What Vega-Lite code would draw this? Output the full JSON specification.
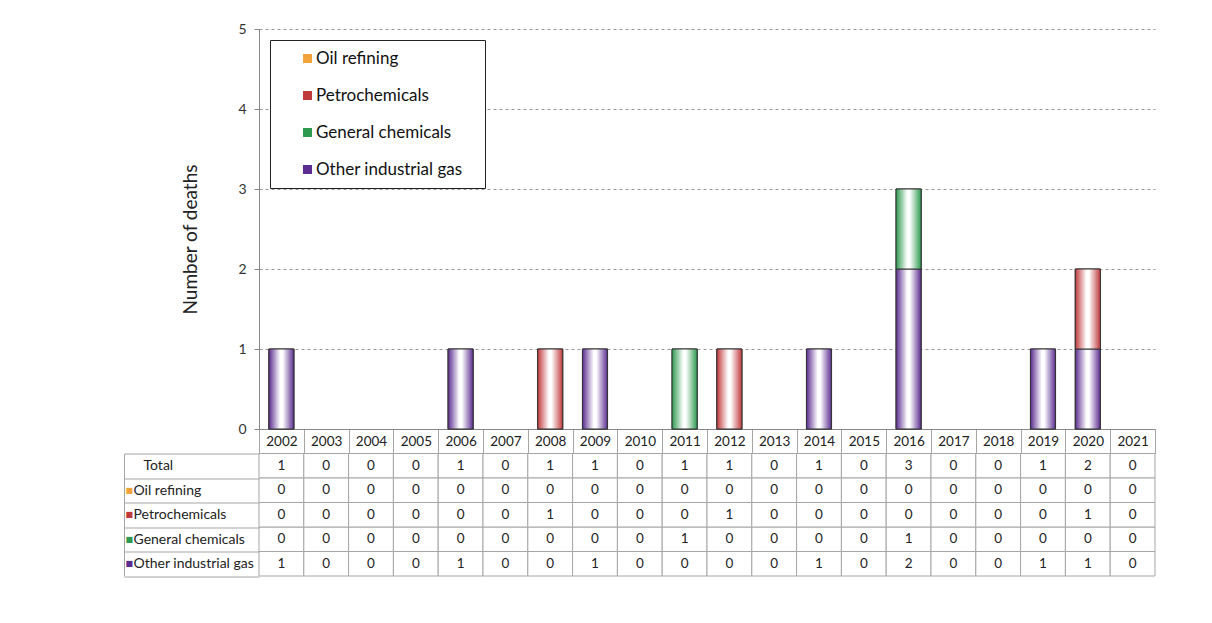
{
  "$schema": "https://vega.github.io/schema/vega-lite/v6.json",
  "padding": {"left": 123, "top": 22, "right": 5, "bottom": 5},
  "background": "white",
  "spacing": 24.5,
  "bounds": "flush",
  "config": {"font": "Lato", "view": {"stroke": null}},
  "data": {"values": [
    {"year": "2002", "Total": 1, "Oil refining": 0, "Petrochemicals": 0, "General chemicals": 0, "Other industrial gas": 1},
    {"year": "2003", "Total": 0, "Oil refining": 0, "Petrochemicals": 0, "General chemicals": 0, "Other industrial gas": 0},
    {"year": "2004", "Total": 0, "Oil refining": 0, "Petrochemicals": 0, "General chemicals": 0, "Other industrial gas": 0},
    {"year": "2005", "Total": 0, "Oil refining": 0, "Petrochemicals": 0, "General chemicals": 0, "Other industrial gas": 0},
    {"year": "2006", "Total": 1, "Oil refining": 0, "Petrochemicals": 0, "General chemicals": 0, "Other industrial gas": 1},
    {"year": "2007", "Total": 0, "Oil refining": 0, "Petrochemicals": 0, "General chemicals": 0, "Other industrial gas": 0},
    {"year": "2008", "Total": 1, "Oil refining": 0, "Petrochemicals": 1, "General chemicals": 0, "Other industrial gas": 0},
    {"year": "2009", "Total": 1, "Oil refining": 0, "Petrochemicals": 0, "General chemicals": 0, "Other industrial gas": 1},
    {"year": "2010", "Total": 0, "Oil refining": 0, "Petrochemicals": 0, "General chemicals": 0, "Other industrial gas": 0},
    {"year": "2011", "Total": 1, "Oil refining": 0, "Petrochemicals": 0, "General chemicals": 1, "Other industrial gas": 0},
    {"year": "2012", "Total": 1, "Oil refining": 0, "Petrochemicals": 1, "General chemicals": 0, "Other industrial gas": 0},
    {"year": "2013", "Total": 0, "Oil refining": 0, "Petrochemicals": 0, "General chemicals": 0, "Other industrial gas": 0},
    {"year": "2014", "Total": 1, "Oil refining": 0, "Petrochemicals": 0, "General chemicals": 0, "Other industrial gas": 1},
    {"year": "2015", "Total": 0, "Oil refining": 0, "Petrochemicals": 0, "General chemicals": 0, "Other industrial gas": 0},
    {"year": "2016", "Total": 3, "Oil refining": 0, "Petrochemicals": 0, "General chemicals": 1, "Other industrial gas": 2},
    {"year": "2017", "Total": 0, "Oil refining": 0, "Petrochemicals": 0, "General chemicals": 0, "Other industrial gas": 0},
    {"year": "2018", "Total": 0, "Oil refining": 0, "Petrochemicals": 0, "General chemicals": 0, "Other industrial gas": 0},
    {"year": "2019", "Total": 1, "Oil refining": 0, "Petrochemicals": 0, "General chemicals": 0, "Other industrial gas": 1},
    {"year": "2020", "Total": 2, "Oil refining": 0, "Petrochemicals": 1, "General chemicals": 0, "Other industrial gas": 1},
    {"year": "2021", "Total": 0, "Oil refining": 0, "Petrochemicals": 0, "General chemicals": 0, "Other industrial gas": 0}
  ]},
  "transform": [
    {"fold": ["Total", "Other industrial gas", "General chemicals", "Petrochemicals", "Oil refining"], "as": ["cat", "n"]}
  ],
  "vconcat": [
    {
      "width": 896,
      "height": 400,
      "transform": [
        {"filter": "datum.cat !== 'Total' && datum.n > 0"},
        {"stack": "n", "groupby": ["year"], "as": ["y0", "y1"]}
      ],
      "encoding": {
        "x": {
          "field": "year", "type": "ordinal",
          "scale": {"domain": ["2002","2003","2004","2005","2006","2007","2008","2009","2010","2011","2012","2013","2014","2015","2016","2017","2018","2019","2020","2021"], "paddingInner": 0, "paddingOuter": 0},
          "axis": {"title": null, "orient": "bottom", "labelAngle": 0, "tickBand": "extent", "tickSize": 24.5, "tickColor": "#a6a6a6", "domainColor": "#888888", "labelPadding": -12, "labelBaseline": "middle", "labelFontSize": 13.5, "labelColor": "#222222", "grid": false}
        },
        "y": {
          "field": "y1", "type": "quantitative",
          "scale": {"domain": [0, 5]},
          "axis": {"title": "Number of deaths", "titleFontSize": 19, "titleFontWeight": "normal", "titleColor": "#222222", "titlePadding": 37, "titleY": 210, "values": [0,1,2,3,4,5], "grid": true, "gridDash": [3,3], "gridColor": "#999999", "domainColor": "#888888", "tickColor": "#888888", "tickSize": 5, "labelFontSize": 14, "labelColor": "#333333", "labelPadding": 8}
        },
        "y2": {"field": "y0"}
      },
      "layer": [
        {
          "mark": {"type": "bar", "stroke": "#333333", "strokeWidth": 1, "width": {"band": 0.56}},
          "encoding": {
            "fill": {
              "field": "cat", "type": "nominal",
              "scale": {
                "domain": ["Oil refining", "Petrochemicals", "General chemicals", "Other industrial gas"],
                "range": ["#f2a43a", "#c0393b", "#2e9a50", "#5b2d90"]
              },
              "legend": {"orient": "top-left", "offset": 11, "title": null, "fillColor": "white", "strokeColor": "#222222", "padding": 10, "symbolType": "square", "symbolSize": 81, "symbolStrokeColor": "#333333", "symbolStrokeWidth": 1, "symbolOffset": 19, "labelFontSize": 17, "labelColor": "#111111", "rowPadding": 19, "labelOffset": 0, "labelLimit": 400, "labelExpr": "datum.label + '\u2800'",
                "encode": {"symbols": {"update": {"fill": {"signal": "datum.value === 'Oil refining' ? {gradient: 'linear', x1: 0, y1: 0, x2: 1, y2: 0, stops: [{offset: 0, color: '#f2a43a'}, {offset: 0.5, color: '#ffffff'}, {offset: 1, color: '#f2a43a'}]} : datum.value === 'Petrochemicals' ? {gradient: 'linear', x1: 0, y1: 0, x2: 1, y2: 0, stops: [{offset: 0, color: '#c0393b'}, {offset: 0.5, color: '#ffffff'}, {offset: 1, color: '#c0393b'}]} : datum.value === 'General chemicals' ? {gradient: 'linear', x1: 0, y1: 0, x2: 1, y2: 0, stops: [{offset: 0, color: '#2e9a50'}, {offset: 0.5, color: '#ffffff'}, {offset: 1, color: '#2e9a50'}]} : {gradient: 'linear', x1: 0, y1: 0, x2: 1, y2: 0, stops: [{offset: 0, color: '#5b2d90'}, {offset: 0.5, color: '#ffffff'}, {offset: 1, color: '#5b2d90'}]}"}}}}
              }
            }
          }
        },
        {
          "mark": {"type": "bar", "stroke": "#333333", "strokeWidth": 1, "width": {"band": 0.56},
            "fill": {"expr": "datum.cat === 'Oil refining' ? {gradient: 'linear', x1: 0, y1: 0, x2: 1, y2: 0, stops: [{offset: 0, color: '#f2a43a'}, {offset: 0.45, color: '#ffffff'}, {offset: 0.55, color: '#ffffff'}, {offset: 1, color: '#f2a43a'}]} : datum.cat === 'Petrochemicals' ? {gradient: 'linear', x1: 0, y1: 0, x2: 1, y2: 0, stops: [{offset: 0, color: '#c0393b'}, {offset: 0.45, color: '#ffffff'}, {offset: 0.55, color: '#ffffff'}, {offset: 1, color: '#c0393b'}]} : datum.cat === 'General chemicals' ? {gradient: 'linear', x1: 0, y1: 0, x2: 1, y2: 0, stops: [{offset: 0, color: '#2e9a50'}, {offset: 0.45, color: '#ffffff'}, {offset: 0.55, color: '#ffffff'}, {offset: 1, color: '#2e9a50'}]} : {gradient: 'linear', x1: 0, y1: 0, x2: 1, y2: 0, stops: [{offset: 0, color: '#5b2d90'}, {offset: 0.45, color: '#ffffff'}, {offset: 0.55, color: '#ffffff'}, {offset: 1, color: '#5b2d90'}]}"}}
        }
      ]
    },
    {
      "width": 896,
      "height": 122.5,
      "layer": [
        {
          "mark": {"type": "rect", "fill": "white", "stroke": "#a6a6a6", "strokeWidth": 1},
          "encoding": {
            "x": {"field": "year", "type": "ordinal", "scale": {"domain": ["2002","2003","2004","2005","2006","2007","2008","2009","2010","2011","2012","2013","2014","2015","2016","2017","2018","2019","2020","2021"], "paddingInner": 0, "paddingOuter": 0}, "axis": null},
            "y": {"field": "cat", "type": "nominal", "scale": {"domain": ["Total", "Oil refining", "Petrochemicals", "General chemicals", "Other industrial gas"], "paddingInner": 0, "paddingOuter": 0},
              "axis": {"orient": "left", "title": null, "domain": false, "ticks": true, "tickBand": "extent", "tickSize": 135, "tickColor": "#a6a6a6", "labelAlign": "left", "labelPadding": -9, "labelFontSize": 14, "labelLimit": 200, "labelColor": "#222222", "labelExpr": "datum.value == 'Total' ? '\u2800Total' : datum.value"}}
          }
        },
        {
          "mark": {"type": "text", "fontSize": 13.5, "color": "#222222"},
          "encoding": {
            "x": {"field": "year", "type": "ordinal", "scale": {"domain": ["2002","2003","2004","2005","2006","2007","2008","2009","2010","2011","2012","2013","2014","2015","2016","2017","2018","2019","2020","2021"], "paddingInner": 0, "paddingOuter": 0}, "axis": null},
            "y": {"field": "cat", "type": "nominal", "scale": {"domain": ["Total", "Oil refining", "Petrochemicals", "General chemicals", "Other industrial gas"], "paddingInner": 0, "paddingOuter": 0},
              "axis": {"orient": "left", "offset": 135, "title": null, "domain": true, "domainColor": "#a6a6a6", "ticks": false, "tickSize": 0, "labelAlign": "left", "labelPadding": -1, "labelFontSize": 8, "labelFont": "DejaVu Sans",
                "labelExpr": "datum.value == 'Total' ? '' : '■'",
                "labelColor": {"condition": [{"test": "datum.value === 'Oil refining'", "value": "#f2a43a"}, {"test": "datum.value === 'Petrochemicals'", "value": "#c0393b"}, {"test": "datum.value === 'General chemicals'", "value": "#2e9a50"}], "value": "#5b2d90"}}},
            "text": {"field": "n", "type": "quantitative"}
          }
        }
      ],
      "resolve": {"scale": {"y": "independent"}, "axis": {"y": "independent"}}
    }
  ]
}
